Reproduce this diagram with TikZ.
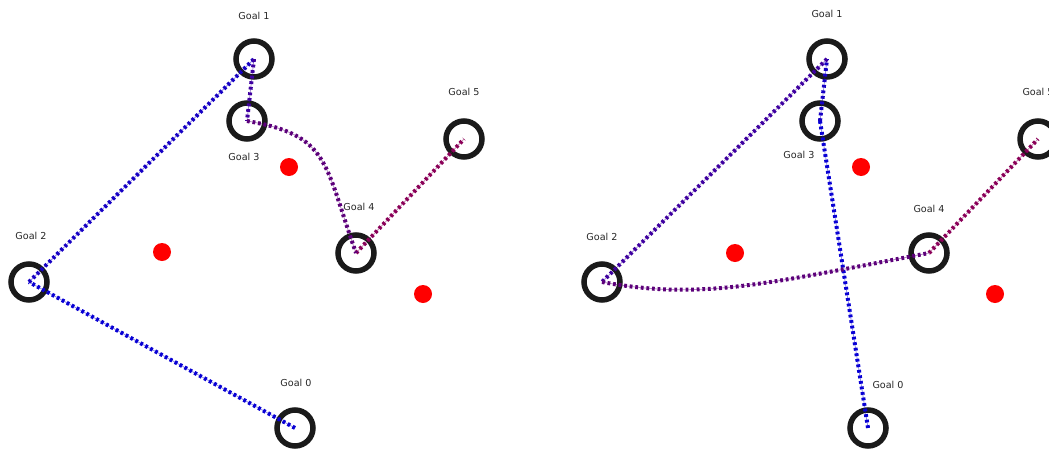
\documentclass[tikz,border=0pt]{standalone}
\usepackage{fontspec}
\setmainfont{DejaVu Sans}
\definecolor{ringc}{RGB}{26,26,26}
\definecolor{obst}{RGB}{255,0,0}
\definecolor{pA}{RGB}{8,0,212}
\definecolor{pB}{RGB}{22,0,196}
\definecolor{pC}{RGB}{62,0,160}
\definecolor{pD}{RGB}{92,0,122}
\definecolor{pE}{RGB}{138,0,88}
\tikzset{
  goal/.style={circle, draw=ringc, line width=5.5pt, minimum size=36pt, inner sep=0pt},
  obstacle/.style={circle, fill=obst, minimum size=18pt, inner sep=0pt},
  glabel/.style={font=\fontsize{9.6}{11}\selectfont, text=black!85, inner sep=0pt},
  traj/.style={line width=4pt, dash pattern=on 2.8pt off 2.8pt},
  trajline/.style={line width=0.8pt, opacity=0.45}
}
\begin{document}
\begin{tikzpicture}[x=1pt,y=-1pt]
\useasboundingbox (0,0) rectangle (1049,450);
\clip (0,0) rectangle (1049,450);
% ---------- left panel ----------
\node[obstacle] (lo1) at (289,167) {};
\node[obstacle] (lo2) at (162,252) {};
\node[obstacle] (lo3) at (423,294) {};
\node[goal] (lg0) at (295,428) {};
\node[goal] (lg1) at (254,59) {};
\node[goal] (lg2) at (29,282) {};
\node[goal] (lg3) at (247,121) {};
\node[goal] (lg4) at (356,253) {};
\node[goal] (lg5) at (464,139) {};
\node[glabel] (ll0) at (296,383) {Goal 0};
\node[glabel] (ll1) at (254,16) {Goal 1};
\node[glabel] (ll2) at (31,236) {Goal 2};
\node[glabel] (ll3) at (244,157) {Goal 3};
\node[glabel] (ll4) at (359,207) {Goal 4};
\node[glabel] (ll5) at (464,92) {Goal 5};
\foreach \c/\a/\b in {pA/lg0/lg2, pB/lg2/lg1, pC/lg1/lg3, pE/lg4/lg5} {
  \draw[trajline, draw=\c] (\a.center) -- (\b.center);
  \draw[traj, draw=\c] (\a.center) -- (\b.center);
}
\draw[trajline, draw=pD] (lg3.center) .. controls (330,135) and (324,163) .. (lg4.center);
\draw[traj, draw=pD] (lg3.center) .. controls (330,135) and (324,163) .. (lg4.center);
% ---------- right panel ----------
\node[obstacle] (ro1) at (861,167) {};
\node[obstacle] (ro2) at (735,253) {};
\node[obstacle] (ro3) at (995,294) {};
\node[goal] (rg0) at (868,428) {};
\node[goal] (rg1) at (827,59) {};
\node[goal] (rg2) at (602,282) {};
\node[goal] (rg3) at (820,121) {};
\node[goal] (rg4) at (929,253) {};
\node[goal] (rg5) at (1038,139) {};
\node[glabel] (rl0) at (888,385) {Goal 0};
\node[glabel] (rl1) at (827,14) {Goal 1};
\node[glabel] (rl2) at (602,237) {Goal 2};
\node[glabel] (rl3) at (799,155) {Goal 3};
\node[glabel] (rl4) at (929,209) {Goal 4};
\node[glabel] (rl5) at (1038,92) {Goal 5};
\foreach \c/\a/\b in {pA/rg0/rg3, pB/rg3/rg1, pC/rg1/rg2, pE/rg4/rg5} {
  \draw[trajline, draw=\c] (\a.center) -- (\b.center);
  \draw[traj, draw=\c] (\a.center) -- (\b.center);
}
\draw[trajline, draw=pD] (rg2.center) .. controls (700,300) and (760,285) .. (rg4.center);
\draw[traj, draw=pD] (rg2.center) .. controls (700,300) and (760,285) .. (rg4.center);
\end{tikzpicture}
\end{document}
